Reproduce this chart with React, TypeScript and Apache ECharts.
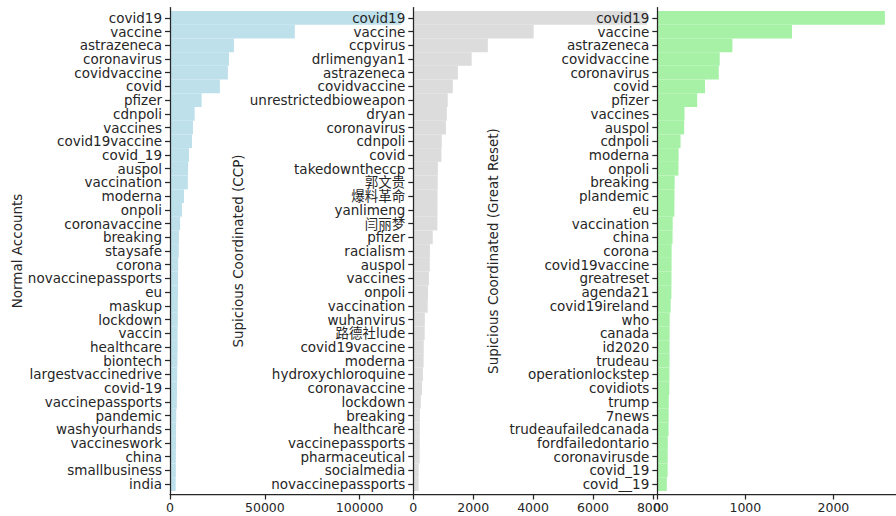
import React, { useEffect, useRef } from "react";
import * as echarts from "echarts";

const normalCats = ["covid19","vaccine","astrazeneca","coronavirus","covidvaccine","covid","pfizer","cdnpoli","vaccines","covid19vaccine","covid_19","auspol","vaccination","moderna","onpoli","coronavaccine","breaking","staysafe","corona","novaccinepassports","eu","maskup","lockdown","vaccin","healthcare","biontech","largestvaccinedrive","covid-19","vaccinepassports","pandemic","washyourhands","vaccineswork","china","smallbusiness","india"];
const normalVals = [122000,65800,33700,31100,30500,26300,16700,13000,12100,11600,10000,9500,9400,7400,6300,5300,4700,4600,4300,4200,4200,4100,4100,4000,4000,3900,3800,3700,3600,3300,3200,3200,3100,3100,3000];

const ccpCats = ["covid19","vaccine","ccpvirus","drlimengyan1","astrazeneca","covidvaccine","unrestrictedbioweapon","dryan","coronavirus","cdnpoli","covid","takedowntheccp","郭文贵","爆料革命","yanlimeng","闫丽梦","pfizer","racialism","auspol","vaccines","onpoli","vaccination","wuhanvirus","路德社lude","covid19vaccine","moderna","hydroxychloroquine","coronavaccine","lockdown","breaking","healthcare","vaccinepassports","pharmaceutical","socialmedia","novaccinepassports"];
const ccpVals = [7810,4020,2490,1950,1490,1320,1150,1120,1090,950,940,820,815,810,808,805,650,555,550,520,490,480,385,380,350,345,320,290,250,220,218,215,212,180,178];

const grCats = ["covid19","vaccine","astrazeneca","covidvaccine","coronavirus","covid","pfizer","vaccines","auspol","cdnpoli","moderna","onpoli","breaking","plandemic","eu","vaccination","china","corona","covid19vaccine","greatreset","agenda21","covid19ireland","who","canada","id2020","trudeau","operationlockstep","covidiots","trump","7news","trudeaufailedcanada","fordfailedontario","coronavirusde","covid_19","covid__19"];
const grVals = [2585,1530,853,709,698,542,453,309,305,264,242,240,197,195,194,175,173,163,162,161,160,152,141,140,139,139,138,137,130,129,128,119,118,117,108];

const panelNames = ["Normal Accounts", "Supicious Coordinated (CCP)", "Supicious Coordinated (Great Reset)"];
const panelMax = [128260, 8150, 2711];
const panelInterval = [50000, 2000, 1000];
const panelColors = ["#BDE0EB", "#DCDCDC", "#A6F1A6"];

const INK = "#262626";
const FONT = "DejaVu Sans, Noto Sans CJK SC, sans-serif";

export default function App() {
  const ref = useRef<HTMLDivElement>(null);
  useEffect(() => {
    if (!ref.current) return;
    const chart = echarts.init(ref.current, undefined, { renderer: "svg" });
    const cats = [normalCats, ccpCats, grCats];
    const vals = [normalVals, ccpVals, grVals];
    const lefts = [170, 413.3, 657.3];
    const widths = [243.3, 244, 243.7];
    const nameGaps = [146, 169, 158];

    const grid: any[] = [];
    const xAxis: any[] = [];
    const yAxis: any[] = [];
    const series: any[] = [];

    for (let i = 0; i < 3; i++) {
      grid.push({ left: lefts[i], width: widths[i], top: 11, height: 480 });
      grid.push({ left: lefts[i], width: widths[i], top: 7.5, height: 487 });
      const gi = i * 2;
      xAxis.push({
        gridIndex: gi, type: "value", min: 0, max: panelMax[i],
        show: false, splitLine: { show: false },
      });
      xAxis.push({
        gridIndex: gi + 1, type: "value", min: 0, max: panelMax[i], interval: panelInterval[i],
        position: "bottom",
        axisLine: { show: true, lineStyle: { color: INK, width: 1.25 } },
        axisTick: { show: true, length: 5, lineStyle: { color: INK, width: 1.25 } },
        axisLabel: {
          show: true, showMaxLabel: false, color: INK, fontSize: 12.5, fontFamily: FONT, margin: 7,
          formatter: (v: number) => String(Math.round(v)),
        },
        splitLine: { show: false },
        z: 5,
      });
      yAxis.push({
        gridIndex: gi, type: "category", inverse: true, data: cats[i],
        axisLine: { show: false },
        axisTick: { show: true, alignWithLabel: true, length: 5, lineStyle: { color: INK, width: 1.25 } },
        axisLabel: { show: true, interval: 0, color: INK, fontSize: 13.5, fontFamily: FONT, margin: 8 },
        name: panelNames[i], nameLocation: "middle", nameGap: nameGaps[i], nameRotate: 90,
        nameTextStyle: { color: INK, fontSize: 13.5, fontFamily: FONT },
        z: 5,
      });
      yAxis.push({
        gridIndex: gi + 1, type: "value", min: 0, max: 1,
        axisLine: { show: true, lineStyle: { color: INK, width: 1.25 } },
        axisTick: { show: false }, axisLabel: { show: false }, splitLine: { show: false },
        z: 5,
      });
      series.push({
        type: "bar", xAxisIndex: gi, yAxisIndex: gi, data: vals[i],
        barWidth: "100%", barCategoryGap: "0%",
        itemStyle: { color: panelColors[i] },
        z: 2,
      });
    }

    chart.setOption({
      animation: false,
      backgroundColor: "#ffffff",
      textStyle: { fontFamily: FONT },
      grid, xAxis, yAxis, series,
    });
    return () => chart.dispose();
  }, []);
  return <div ref={ref} style={{ position: "absolute", left: 0, top: 0, width: 896, height: 516 }} />;
}
